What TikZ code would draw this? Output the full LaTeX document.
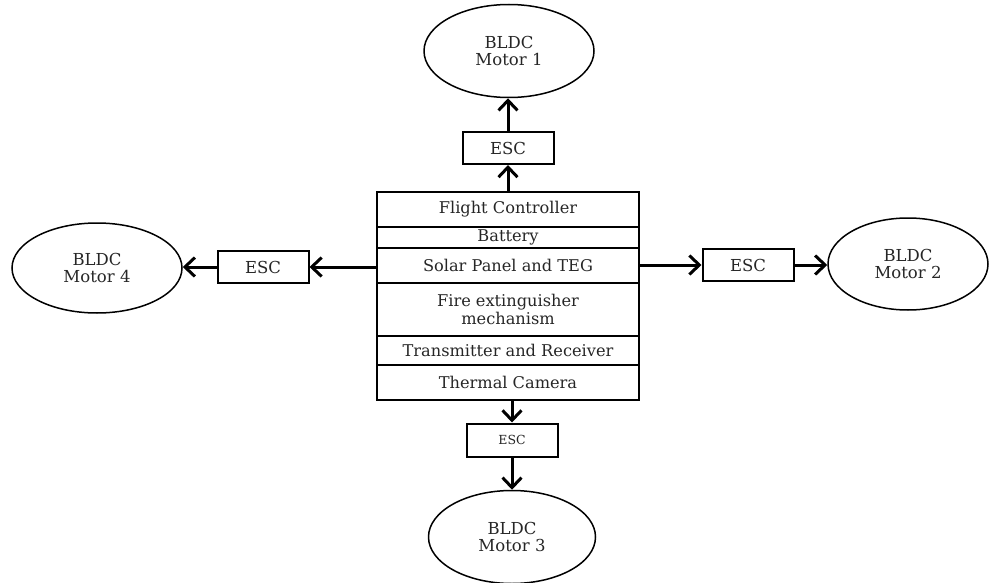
\documentclass[tikz,border=0pt]{standalone}
\usepackage{fontspec}
\setmainfont{DejaVu Serif}
\usetikzlibrary{shapes.geometric, arrows.meta}

\begin{document}
\begin{tikzpicture}[x=1pt, y=-1pt,
          >={Straight Barb[length=10pt, width=19pt]},
          every node/.style={text=black!85},
          row/.style={rectangle, draw, line width=2pt, minimum width=262pt, inner sep=0pt, outer sep=0pt,
                      align=center, font=\fontsize{16.2}{18}\selectfont},
          escbox/.style={rectangle, draw, line width=2pt, minimum width=91pt, minimum height=32pt, inner sep=0pt,
                         font=\fontsize{16.5}{18}\selectfont},
          motor/.style={ellipse, draw, line width=1.5pt, inner sep=0pt, align=center,
                        font=\fontsize{16.5}{17.5}\selectfont},
          link/.style={->, line width=3pt}]
          \useasboundingbox (0,0) rectangle (990,583);

          % central block
          \node[row, minimum height=35pt] (fc) at (508,209.5) {Flight Controller};
          \node[row, minimum height=21pt] (bat) at (508,237.5) {Battery};
          \node[row, minimum height=35pt] (sp) at (508,265.5) {Solar Panel and TEG};
          \node[row, minimum height=53pt] (fe) at (508,309.5) {Fire extinguisher\\mechanism};
          \node[row, minimum height=29pt] (tr) at (508,350.5) {Transmitter and Receiver};
          \node[row, minimum height=35pt] (tc) at (508,382.5) {Thermal Camera};

          % ESCs
          \node[escbox] (esc1) at (508,148) {ESC};
          \node[escbox] (esc2) at (748,265) {ESC};
          \node[escbox, minimum height=33pt, font=\fontsize{12.5}{14}\selectfont] (esc3) at (512,440) {ESC};
          \node[escbox] (esc4) at (263,267) {ESC};

          % motors
          \node[motor, minimum width=170pt, minimum height=93pt] (m1) at (509,51) {BLDC\\Motor 1};
          \node[motor, minimum width=160pt, minimum height=92pt] (m2) at (908,264) {BLDC\\Motor 2};
          \node[motor, minimum width=167pt, minimum height=93pt] (m3) at (512,537) {BLDC\\Motor 3};
          \node[motor, minimum width=170pt, minimum height=90pt] (m4) at (97,268) {BLDC\\Motor 4};

          \draw[link] (fc.north -| esc1.south) -- (esc1.south);
          \draw[link] (esc1.north) -- (esc1.north |- m1.south);
          \draw[link] (sp.east |- esc2.west) -- (esc2.west);
          \draw[link] (esc2.east) -- (m2.west |- esc2.east);
          \draw[link] (tc.south -| esc3.north) -- (esc3.north);
          \draw[link] (esc3.south) -- (esc3.south |- m3.north);
          \draw[link] (sp.west |- esc4.east) -- (esc4.east);
          \draw[link] (esc4.west) -- (m4.east |- esc4.west);
        \end{tikzpicture}
\end{document}
